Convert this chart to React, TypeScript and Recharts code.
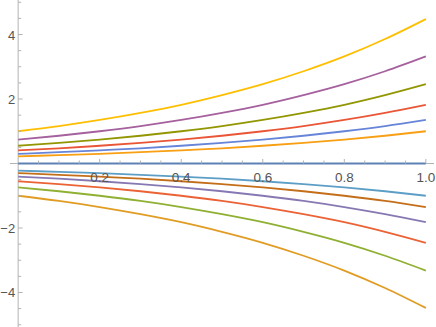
import React from "react";
import { LineChart, Line, XAxis, YAxis, ReferenceLine, ReferenceDot } from "recharts";

const xs = [0, 0.1, 0.2, 0.3, 0.4, 0.5, 0.6, 0.7, 0.8, 0.9, 1.0];

const zero = [0, 0, 0, 0, 0, 0, 0, 0, 0, 0, 0];

const pos1 = [1.0, 1.16, 1.35, 1.57, 1.82, 2.12, 2.46, 2.86, 3.32, 3.86, 4.48];
const pos2 = [0.74, 0.86, 1.0, 1.16, 1.35, 1.57, 1.82, 2.12, 2.46, 2.86, 3.32];
const pos3 = [0.55, 0.64, 0.74, 0.86, 1.0, 1.16, 1.35, 1.57, 1.82, 2.12, 2.46];
const pos4 = [0.41, 0.47, 0.55, 0.64, 0.74, 0.86, 1.0, 1.16, 1.35, 1.57, 1.82];
const pos5 = [0.3, 0.35, 0.41, 0.47, 0.55, 0.64, 0.74, 0.86, 1.0, 1.16, 1.35];
const pos6 = [0.22, 0.26, 0.3, 0.35, 0.41, 0.47, 0.55, 0.64, 0.74, 0.86, 1.0];

const neg1 = [-1.0, -1.16, -1.35, -1.57, -1.82, -2.12, -2.46, -2.86, -3.32, -3.86, -4.48];
const neg2 = [-0.74, -0.86, -1.0, -1.16, -1.35, -1.57, -1.82, -2.12, -2.46, -2.86, -3.32];
const neg3 = [-0.55, -0.64, -0.74, -0.86, -1.0, -1.16, -1.35, -1.57, -1.82, -2.12, -2.46];
const neg4 = [-0.41, -0.47, -0.55, -0.64, -0.74, -0.86, -1.0, -1.16, -1.35, -1.57, -1.82];
const neg5 = [-0.3, -0.35, -0.41, -0.47, -0.55, -0.64, -0.74, -0.86, -1.0, -1.16, -1.35];
const neg6 = [-0.22, -0.26, -0.3, -0.35, -0.41, -0.47, -0.55, -0.64, -0.74, -0.86, -1.0];

const seriesList = [
  { key: "z", values: zero, color: "#5E81B5" },
  { key: "n1", values: neg1, color: "#E19C24" },
  { key: "n2", values: neg2, color: "#8FB032" },
  { key: "n3", values: neg3, color: "#EB6235" },
  { key: "n4", values: neg4, color: "#8778B3" },
  { key: "n5", values: neg5, color: "#C56E1A" },
  { key: "n6", values: neg6, color: "#5D9EC7" },
  { key: "p1", values: pos1, color: "#FFBF00" },
  { key: "p2", values: pos2, color: "#A5609D" },
  { key: "p3", values: pos3, color: "#929600" },
  { key: "p4", values: pos4, color: "#E95536" },
  { key: "p5", values: pos5, color: "#6685D9" },
  { key: "p6", values: pos6, color: "#F89F13" },
];

const xTicks = [0.05, 0.1, 0.15, 0.2, 0.25, 0.3, 0.35, 0.4, 0.45, 0.5, 0.55, 0.6, 0.65, 0.7, 0.75, 0.8, 0.85, 0.9, 0.95, 1.0];
const xLabels: Record<string, string> = { "0.2": "0.2", "0.4": "0.4", "0.6": "0.6", "0.8": "0.8", "1": "1.0" };
const yTicks = [-5, -4.5, -4, -3.5, -3, -2.5, -2, -1.5, -1, -0.5, 0.5, 1, 1.5, 2, 2.5, 3, 3.5, 4, 4.5, 5];
const yLabels: Record<string, string> = { "-4": "\u22124", "-2": "\u22122", "2": "2", "4": "4" };

const data = xs.map((x, i) => {
  const row: Record<string, number> = { x };
  seriesList.forEach((s) => {
    row[s.key] = s.values[i];
  });
  return row;
});

const AXIS = "#b3b3b3";
const LABEL = "#555555";
const FONT = "'Liberation Sans', Arial, sans-serif";

export default function App() {
  return (
    <div style={{ position: "absolute", left: 0, top: 0, background: "#fff" }}>
      <LineChart width={436} height={327} data={data} margin={{ top: 0, right: 2, bottom: 0, left: 10 }}>
        <XAxis type="number" dataKey="x" domain={[-0.02, 1.02]} hide allowDataOverflow />
        <YAxis type="number" domain={[-5.07, 5.07]} hide allowDataOverflow />
        <ReferenceLine x={0} stroke={AXIS} strokeWidth={1} />
        <ReferenceLine y={0} stroke={AXIS} strokeWidth={1} />
        {seriesList.map((s) => (
          <Line
            key={s.key}
            dataKey={s.key}
            type="monotone"
            stroke={s.color}
            strokeWidth={1.8}
            dot={false}
            isAnimationActive={false}
          />
        ))}
        {xTicks.map((t) => {
          const lbl = xLabels[String(t)];
          return (
            <ReferenceDot
              key={"xt" + t}
              x={t}
              y={0}
              r={0}
              ifOverflow="visible"
              shape={(p: any) => (
                <g>
                  <line x1={p.cx} y1={p.cy} x2={p.cx} y2={p.cy - (lbl ? 4.5 : 3)} stroke={AXIS} strokeWidth={1} />
                  {lbl ? (
                    <text x={p.cx} y={p.cy + 18.5} textAnchor="middle" fontSize={13.5} fill={LABEL} fontFamily={FONT}>
                      {lbl}
                    </text>
                  ) : null}
                </g>
              )}
            />
          );
        })}
        {yTicks.map((t) => {
          const lbl = yLabels[String(t)];
          return (
            <ReferenceDot
              key={"yt" + t}
              x={0}
              y={t}
              r={0}
              ifOverflow="visible"
              shape={(p: any) => (
                <g>
                  <line x1={p.cx} y1={p.cy} x2={p.cx + (lbl ? 4.5 : 3)} y2={p.cy} stroke={AXIS} strokeWidth={1} />
                  {lbl ? (
                    <text x={p.cx - 3} y={p.cy + 5} textAnchor="end" fontSize={13} fill={LABEL} fontFamily={FONT}>
                      {lbl}
                    </text>
                  ) : null}
                </g>
              )}
            />
          );
        })}
      </LineChart>
    </div>
  );
}
